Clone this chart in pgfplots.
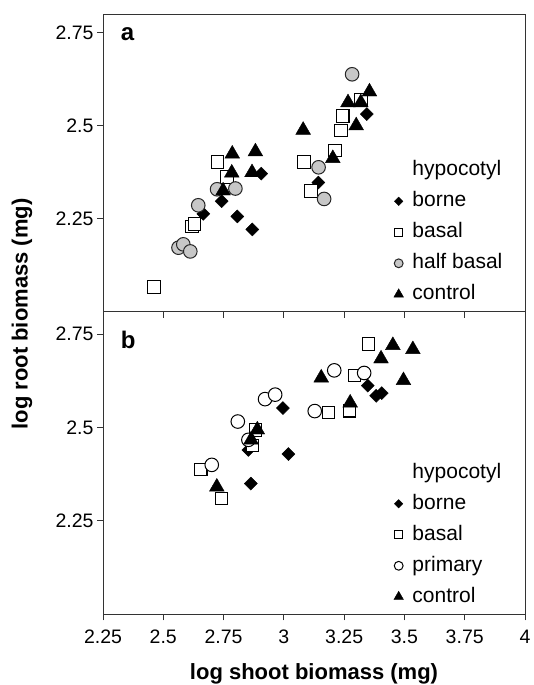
\documentclass[border=0pt]{standalone}
\usepackage{fontspec}
\setmainfont{Liberation Sans}
\usepackage{pgfplots}
\pgfplotsset{compat=1.18}

\pgfplotsset{
  borne/.style={only marks, mark=square*, mark size=4.6pt,
    mark options={rotate=45, draw=black, fill=black}},
  basal/.style={only marks, mark=square*, mark size=6.3pt,
    mark options={draw=black, fill=white, line width=1.1pt}},
  halfb/.style={only marks, mark=*, mark size=6.8pt,
    mark options={draw=black!85, fill=black!22, line width=1pt}},
  prim/.style={only marks, mark=*, mark size=6.8pt,
    mark options={draw=black, fill=white, line width=1pt}},
  ctrl/.style={only marks, mark=triangle*, mark size=8.5pt,
    mark options={draw=black, fill=black}},
  panel/.style={
    scale only axis, width=422pt,
    xmin=2.25, xmax=4, ymin=2,
    xtick={2.25,2.5,2.75,3,3.25,3.5,3.75,4},
    ytick={2.25,2.5,2.75},
    tick align=outside, tick pos=left, major tick length=6pt,
    axis line style={black!80, line width=0.9pt},
    tick style={black!80, line width=0.9pt},
    ticklabel style={font=\fontsize{19.5}{22}\selectfont},
    xticklabel style={yshift=-6pt},
    /pgf/number format/assume math mode=true,
    legend cell align=left,
    legend image post style={/tikz/every mark/.append style={scale=0.65}},
    legend style={draw=none, fill=none, inner sep=0pt,
      font=\fontsize{21}{24}\selectfont,
      at={(0.68,0.025)}, anchor=south west, row sep=11.5pt,
      nodes={text height=15pt, text depth=4.5pt, inner ysep=0pt,
        inner xsep=9pt}},
    clip=false,
  },
}

\begin{document}
\begin{tikzpicture}[x=1pt,y=1pt]
\path[use as bounding box] (0,0) rectangle (534,685);

% panel a
\begin{axis}[panel, at={(103pt,373.3pt)}, anchor=south west,
  height=297.7pt, ymax=2.8, xticklabels={}]
\addlegendimage{empty legend}
\addlegendentry{hypocotyl}
\addplot[borne] coordinates {
  (2.666,2.263) (2.742,2.297) (2.807,2.256) (2.869,2.221)
  (2.906,2.371) (3.143,2.347) (3.344,2.531)
};
\addlegendentry{borne}
\addplot[basal] coordinates {
  (2.462,2.067) (2.620,2.229) (2.630,2.235) (2.725,2.402)
  (2.765,2.362) (3.084,2.402) (3.112,2.325) (3.213,2.433)
  (3.237,2.487) (3.244,2.526) (3.320,2.570)
};
\addlegendentry{basal}
\addplot[halfb] coordinates {
  (2.563,2.172) (2.583,2.181) (2.612,2.162) (2.645,2.286)
  (2.723,2.329) (2.799,2.331) (3.144,2.388) (3.167,2.303)
  (3.283,2.638)
};
\addlegendentry{half basal}
\addplot[ctrl] coordinates {
  (2.748,2.325) (2.784,2.373) (2.786,2.424) (2.868,2.374)
  (2.882,2.430) (3.080,2.488) (3.203,2.412) (3.266,2.562)
  (3.300,2.500) (3.319,2.562) (3.355,2.591)
};
\addlegendentry{control}
\node[anchor=west, font=\fontsize{24}{26}\selectfont\bfseries]
  at (rel axis cs:0.034,0.931) {a};
\end{axis}

% panel b
\begin{axis}[panel, at={(103pt,70.7pt)}, anchor=south west,
  height=302.6pt, ymax=2.81,
  xlabel={log shoot biomass (mg)},
  xlabel style={font=\fontsize{22}{24}\selectfont\bfseries,
    at={(axis description cs:0.5,0)}, anchor=center, yshift=-60pt}]
\addlegendimage{empty legend}
\addlegendentry{hypocotyl}
\addplot[borne] coordinates {
  (2.853,2.440) (2.863,2.350) (2.996,2.552) (3.019,2.429)
  (3.348,2.612) (3.383,2.585) (3.406,2.592)
};
\addlegendentry{borne}
\addplot[basal] coordinates {
  (2.655,2.388) (2.742,2.310) (2.869,2.452) (2.883,2.494)
  (3.185,2.540) (3.272,2.545) (3.293,2.639) (3.351,2.724)
};
\addlegendentry{basal}
\addplot[prim] coordinates {
  (2.701,2.400) (2.809,2.516) (2.853,2.467) (2.922,2.576)
  (2.964,2.588) (3.128,2.544) (3.209,2.653) (3.333,2.646)
};
\addlegendentry{primary}
\addplot[ctrl] coordinates {
  (2.722,2.341) (2.864,2.467) (2.890,2.494) (3.155,2.633)
  (3.275,2.566) (3.403,2.684) (3.452,2.720) (3.496,2.626)
  (3.535,2.709)
};
\addlegendentry{control}
\node[anchor=west, font=\fontsize{24}{26}\selectfont\bfseries]
  at (rel axis cs:0.034,0.908) {b};
\end{axis}

\node[rotate=90, font=\fontsize{22}{24}\selectfont\bfseries]
  at (22,371) {log root biomass (mg)};
\end{tikzpicture}
\end{document}
